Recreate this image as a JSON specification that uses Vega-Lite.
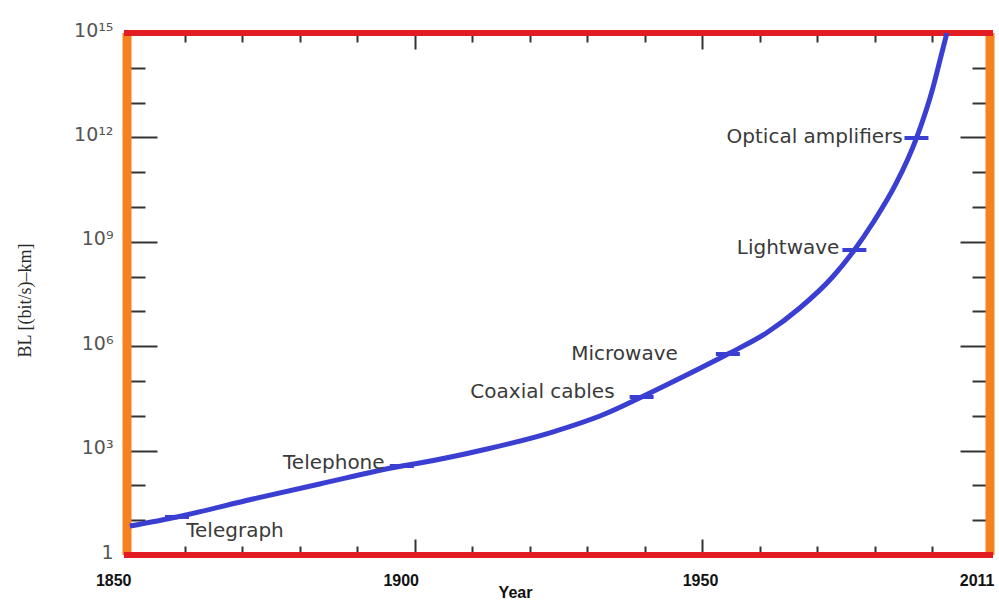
{
  "$schema": "https://vega.github.io/schema/vega-lite/v6.json",
  "width": 863,
  "height": 522,
  "autosize": {"type": "none"},
  "padding": {"left": 127, "top": 33, "right": 9, "bottom": 46},
  "background": "white",
  "config": {"view": {"stroke": null}},
  "datasets": {
    "curve": [
      {"year": 1850.5, "bl": 6.8},
      {"year": 1858.7, "bl": 12.4},
      {"year": 1871.9, "bl": 40.6},
      {"year": 1883.5, "bl": 110},
      {"year": 1897.8, "bl": 361},
      {"year": 1900.9, "bl": 440},
      {"year": 1912.6, "bl": 1110},
      {"year": 1924.0, "bl": 3420},
      {"year": 1933.1, "bl": 11270},
      {"year": 1939.5, "bl": 34700},
      {"year": 1946.6, "bl": 130000},
      {"year": 1954.5, "bl": 597000},
      {"year": 1961.2, "bl": 2390000},
      {"year": 1967.0, "bl": 12500000},
      {"year": 1972.7, "bl": 97400000},
      {"year": 1976.5, "bl": 581000000},
      {"year": 1979.7, "bl": 3470000000},
      {"year": 1983.8, "bl": 49000000000},
      {"year": 1987.3, "bl": 960000000000},
      {"year": 1990.4, "bl": 28000000000000},
      {"year": 1992.9, "bl": 167000000000000},
      {"year": 1995.4, "bl": 1000000000000000}
    ],
    "milestones": [
      {"label": "Telegraph", "year": 1858.7, "bl": 12.4, "labelYear": 1860.3, "labelBL": 4.9},
      {"label": "Telephone", "year": 1897.8, "bl": 361, "labelYear": 1894.8, "labelBL": 437},
      {"label": "Coaxial cables", "year": 1939.5, "bl": 34700, "labelYear": 1934.8, "labelBL": 48000},
      {"label": "Microwave", "year": 1954.5, "bl": 597000, "labelYear": 1945.8, "labelBL": 600000},
      {"label": "Lightwave", "year": 1976.5, "bl": 581000000, "labelYear": 1973.9, "labelBL": 660000000},
      {"label": "Optical amplifiers", "year": 1987.3, "bl": 960000000000, "labelYear": 1984.9, "labelBL": 1020000000000}
    ],
    "xEdges": [{"year": 1850}, {"year": 2011}],
    "yEdges": [{"bl": 1}, {"bl": 1000000000000000}]
  },
  "layer": [
    {
      "data": {"name": "xEdges"},
      "mark": {"type": "rule", "color": "#f5821f", "strokeWidth": 9},
      "encoding": {
        "x": {"field": "year", "type": "quantitative", "axis": null,
              "scale": {"domain": [1850, 1990, 2011], "range": [0, 805, 863], "nice": false, "zero": false}}
      }
    },
    {
      "data": {"name": "yEdges"},
      "mark": {"type": "rule", "color": "#e31b23", "strokeWidth": 6, "strokeCap": "square"},
      "encoding": {
        "y": {"field": "bl", "type": "quantitative", "axis": null,
              "scale": {"type": "log", "domain": [1, 1000000000000000], "nice": false}}
      }
    },
    {
      "data": {"name": "curve"},
      "mark": {"type": "line", "color": "#3a3fd2", "strokeWidth": 5, "interpolate": "monotone"},
      "encoding": {
        "x": {
          "field": "year", "type": "quantitative",
          "scale": {"domain": [1850, 1990, 2011], "range": [0, 805, 863], "nice": false, "zero": false},
          "axis": {
            "orient": "bottom",
            "values": [1850, 1860, 1870, 1880, 1890, 1900, 1910, 1920, 1930, 1940, 1950, 1960, 1970, 1980, 1990, 2011],
            "format": "d",
            "labelExpr": "datum.value == 1850 || datum.value == 1900 || datum.value == 1950 || datum.value == 2011 ? datum.label : ''",
            "labelOverlap": false,
            "labelFlush": false,
            "labelAlign": {"condition": {"test": "datum.value == 1950", "value": "center"}, "value": "right"},
            "labelOffset": {"condition": {"test": "datum.value == 1950", "value": -2}, "value": 4},
            "domain": false,
            "grid": false,
            "tickColor": "#333333",
            "tickWidth": 2,
            "tickSize": {"condition": {"test": "datum.value == 1850 || datum.value == 1900 || datum.value == 1950 || datum.value == 2011", "value": -16}, "value": -9},
            "labelFont": "Liberation Sans",
            "labelFontWeight": "bold",
            "labelFontSize": 16,
            "labelColor": "#111111",
            "labelBaseline": "alphabetic",
            "labelPadding": 46,
            "title": "Year",
            "titleFont": "Liberation Sans",
            "titleFontWeight": "bold",
            "titleFontSize": 16,
            "titleColor": "#111111",
            "titleX": 388,
            "titleY": 42,
            "titleBaseline": "alphabetic"
          }
        },
        "y": {
          "field": "bl", "type": "quantitative",
          "scale": {"type": "log", "domain": [1, 1000000000000000], "nice": false},
          "axis": {
            "orient": "left",
            "values": [1, 10, 100, 1000, 10000, 100000, 1000000, 10000000, 100000000, 1000000000, 10000000000, 100000000000, 1000000000000, 10000000000000, 100000000000000, 1000000000000000],
            "labelExpr": "round(log(datum.value)/LN10) == 0 ? '1' : round(log(datum.value)/LN10) == 3 ? '10³' : round(log(datum.value)/LN10) == 6 ? '10⁶' : round(log(datum.value)/LN10) == 9 ? '10⁹' : round(log(datum.value)/LN10) == 12 ? '10¹²' : round(log(datum.value)/LN10) == 15 ? '10¹⁵' : ''",
            "labelOverlap": false,
            "labelFlush": false,
            "domain": false,
            "grid": false,
            "tickColor": "#333333",
            "tickWidth": 2,
            "tickSize": {"condition": {"test": "round(log(datum.value)/LN10) % 3 == 0", "value": -30}, "value": -18},
            "labelFont": "DejaVu Sans",
            "labelFontSize": 19,
            "labelColor": "#555555",
            "labelPadding": 44,
            "labelOffset": -3,
            "title": "BL [(bit/s)–km]",
            "titleFont": "Liberation Serif",
            "titleFontWeight": "normal",
            "titleFontSize": 18,
            "titleColor": "#2a2a2a",
            "titleX": -102,
            "titleY": 267,
            "titleAlign": "center",
            "titleBaseline": "middle"
          }
        }
      }
    },
    {
      "data": {"name": "milestones"},
      "mark": {"type": "tick", "orient": "horizontal", "size": 24, "thickness": 4, "color": "#3a3fd2", "opacity": 1},
      "encoding": {
        "x": {
          "field": "year", "type": "quantitative",
          "scale": {"domain": [1850, 1990, 2011], "range": [0, 805, 863], "nice": false, "zero": false},
          "axis": {
            "orient": "top",
            "values": [1860, 1870, 1880, 1890, 1900, 1910, 1920, 1930, 1940, 1950, 1960, 1970, 1980, 1990],
            "labels": false,
            "domain": false,
            "grid": false,
            "title": null,
            "tickColor": "#333333",
            "tickWidth": 2,
            "tickSize": {"condition": {"test": "datum.value == 1900 || datum.value == 1950", "value": -16}, "value": -9}
          }
        },
        "y": {
          "field": "bl", "type": "quantitative",
          "scale": {"type": "log", "domain": [1, 1000000000000000], "nice": false},
          "axis": {
            "orient": "right",
            "values": [10, 100, 1000, 10000, 100000, 1000000, 10000000, 100000000, 1000000000, 10000000000, 100000000000, 1000000000000, 10000000000000, 100000000000000],
            "labels": false,
            "domain": false,
            "grid": false,
            "title": null,
            "tickColor": "#333333",
            "tickWidth": 2,
            "tickSize": {"condition": {"test": "round(log(datum.value)/LN10) % 3 == 0", "value": -30}, "value": -18}
          }
        }
      }
    },
    {
      "data": {"name": "milestones"},
      "transform": [{"filter": "datum.label == 'Telegraph'"}],
      "mark": {"type": "text", "align": "left", "baseline": "middle", "font": "DejaVu Sans", "fontSize": 20, "color": "#3a3a3a"},
      "encoding": {
        "x": {"field": "labelYear", "type": "quantitative", "axis": null,
              "scale": {"domain": [1850, 1990, 2011], "range": [0, 805, 863], "nice": false, "zero": false}},
        "y": {"field": "labelBL", "type": "quantitative", "axis": null,
              "scale": {"type": "log", "domain": [1, 1000000000000000], "nice": false}},
        "text": {"field": "label"}
      }
    },
    {
      "data": {"name": "milestones"},
      "transform": [{"filter": "datum.label != 'Telegraph'"}],
      "mark": {"type": "text", "align": "right", "baseline": "middle", "font": "DejaVu Sans", "fontSize": 20, "color": "#3a3a3a"},
      "encoding": {
        "x": {"field": "labelYear", "type": "quantitative", "axis": null,
              "scale": {"domain": [1850, 1990, 2011], "range": [0, 805, 863], "nice": false, "zero": false}},
        "y": {"field": "labelBL", "type": "quantitative", "axis": null,
              "scale": {"type": "log", "domain": [1, 1000000000000000], "nice": false}},
        "text": {"field": "label"}
      }
    }
  ],
  "resolve": {"axis": {"x": "independent", "y": "independent"}}
}
